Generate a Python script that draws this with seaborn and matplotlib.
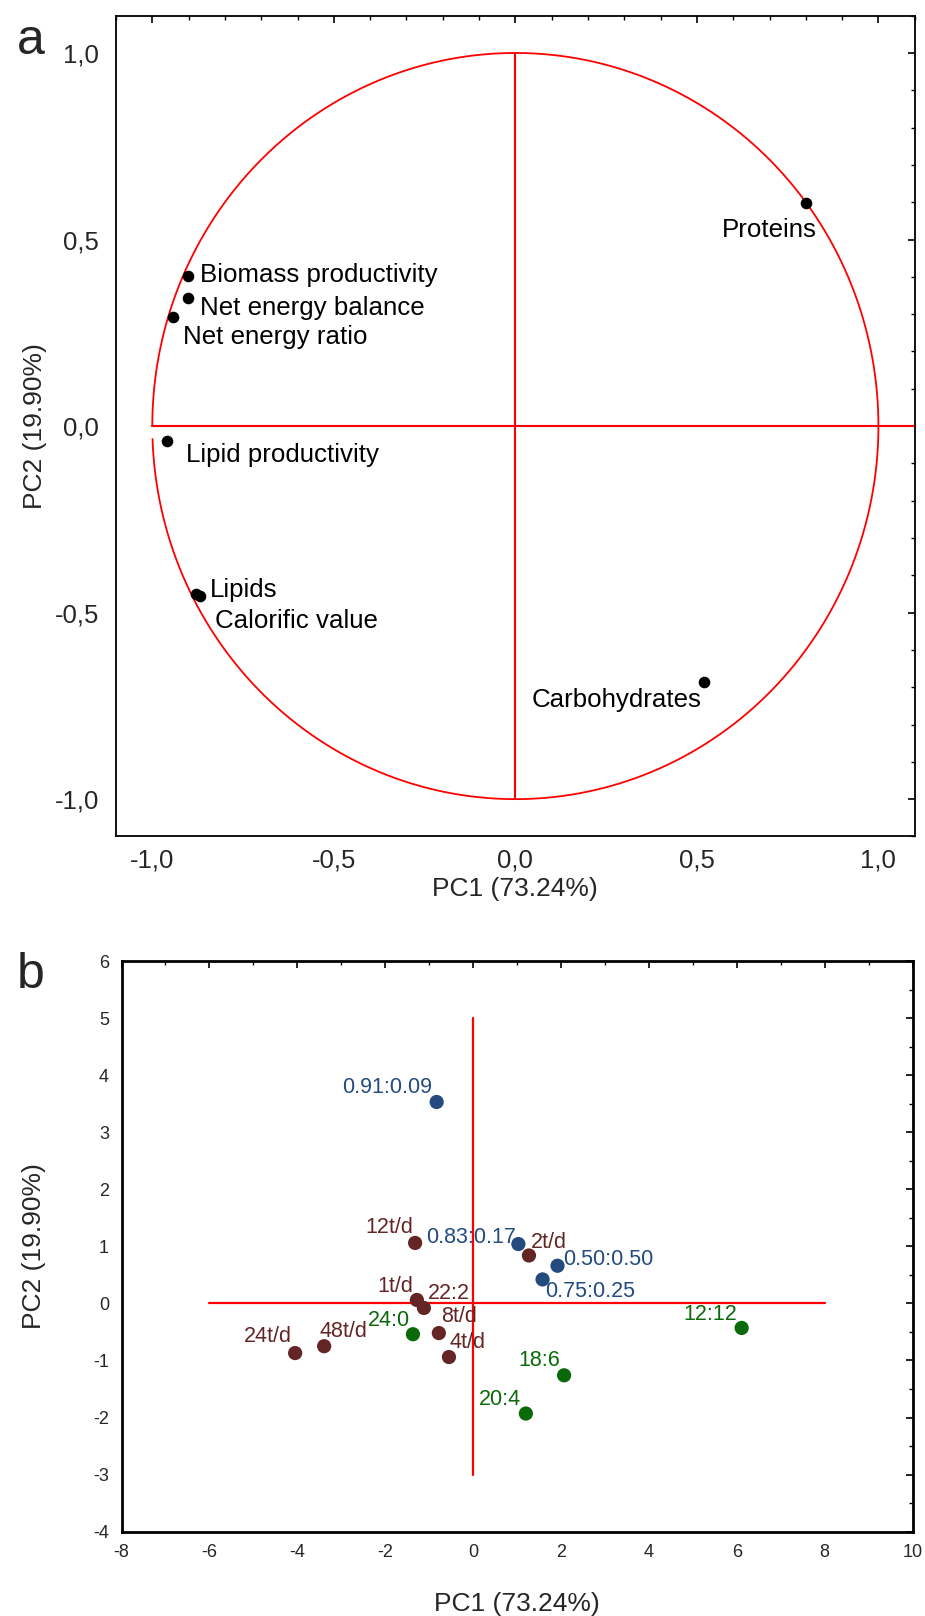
import numpy as np
import pandas as pd
import matplotlib
matplotlib.use("Agg")
import matplotlib.pyplot as plt
import seaborn as sns
from matplotlib.ticker import MultipleLocator, FixedLocator

sns.set_style("white")
plt.rcParams['font.family'] = ['Liberation Sans', 'DejaVu Sans']
plt.rcParams['axes.unicode_minus'] = False

# ---------------- data: panel a (loadings) ----------------
var_names = ["Proteins", "Biomass productivity", "Net energy balance", "Net energy ratio",
             "Lipid productivity", "Lipids", "Calorific value", "Carbohydrates"]
var_pc1 = [0.80, -0.903, -0.903, -0.943, -0.960, -0.881, -0.869, 0.520]
var_pc2 = [0.597, 0.403, 0.343, 0.293, -0.039, -0.450, -0.456, -0.685]

# ---------------- data: panel b (scores) ----------------
obs_names = ["0.91:0.09", "0.83:0.17", "0.50:0.50", "0.75:0.25",
             "12t/d", "2t/d", "1t/d", "22:2", "8t/d", "4t/d", "24t/d", "48t/d",
             "24:0", "12:12", "18:6", "20:4"]
obs_pc1 = [-0.83, 1.03, 1.92, 1.58,
           -1.32, 1.27, -1.28, -1.12, -0.78, -0.55, -4.05, -3.39,
           -1.37, 6.11, 2.07, 1.20]
obs_pc2 = [3.53, 1.04, 0.66, 0.42,
           1.06, 0.84, 0.06, -0.08, -0.52, -0.94, -0.87, -0.75,
           -0.54, -0.43, -1.26, -1.93]
obs_group = ["ratio"] * 4 + ["brown"] * 8 + ["green"] * 4

xlabel = "PC1 (73.24%)"
ylabel = "PC2 (19.90%)"

# ---------------- styling / layout ----------------
palette = {"ratio": "#234B7E", "brown": "#642624", "green": "#0A6A0A"}
# label offsets in pixels (dx, dy up), horizontal alignment
var_lab = {
    "Proteins": (11, -27, "right"),
    "Biomass productivity": (12, 1, "left"),
    "Net energy balance": (12, -10, "left"),
    "Net energy ratio": (10, -20, "left"),
    "Lipid productivity": (19, -14, "left"),
    "Lipids": (14, 4, "left"),
    "Calorific value": (15, -25, "left"),
    "Carbohydrates": (-3, -18, "right"),
}
obs_lab = {
    "0.91:0.09": (-5, 14, "right"),
    "0.83:0.17": (-2, 7, "right"),
    "0.50:0.50": (6, 6, "left"),
    "0.75:0.25": (3, -12, "left"),
    "12t/d": (-2, 15, "right"),
    "2t/d": (2, 13, "left"),
    "1t/d": (-4, 13, "right"),
    "22:2": (4, 14, "left"),
    "8t/d": (2, 17, "left"),
    "4t/d": (1, 15, "left"),
    "24t/d": (-3, 17, "right"),
    "48t/d": (-5, 15, "left"),
    "24:0": (-3, 14, "right"),
    "12:12": (-5, 13, "right"),
    "18:6": (-4, 15, "right"),
    "20:4": (-5, 14, "right"),
}
PX = 0.72  # points per pixel at dpi 100

fig = plt.figure(figsize=(9.25, 16.16), dpi=100)
axa = fig.add_axes([0.1254, 0.4824, 0.9889 - 0.1254, 0.9903 - 0.4824])
axb = fig.add_axes([0.1314, 0.0522, 0.9866 - 0.1314, 0.4053 - 0.0522])

# ---------------- panel a ----------------
red = "#FF0000"
theta = np.deg2rad(np.linspace(182, 540, 800))
axa.plot(np.cos(theta), np.sin(theta), color=red, lw=1.3, zorder=1)
axa.plot([0, 0], [-1, 1], color=red, lw=1.5, zorder=1)
axa.plot([-1, 1.1], [0, 0], color=red, lw=1.5, zorder=1)

dfa = pd.DataFrame({"name": var_names, "pc1": var_pc1, "pc2": var_pc2})
sns.scatterplot(data=dfa, x="pc1", y="pc2", ax=axa, color="black", s=70,
                edgecolor="black", linewidth=0, zorder=3, legend=False)
for n, x, y in zip(var_names, var_pc1, var_pc2):
    dx, dy, ha = var_lab[n]
    axa.annotate(n, (x, y), xytext=(dx * PX, dy * PX), textcoords="offset points",
                 ha=ha, va="center", fontsize=18.6, color="black")

axa.set_xlim(-1.1, 1.1)
axa.set_ylim(-1.1, 1.1)
axa.xaxis.set_major_locator(FixedLocator([-1, -0.5, 0, 0.5, 1]))
axa.yaxis.set_major_locator(FixedLocator([-1, -0.5, 0, 0.5, 1]))
axa.xaxis.set_minor_locator(MultipleLocator(0.1))
axa.yaxis.set_minor_locator(MultipleLocator(0.1))
axa.set_xticklabels(["-1,0", "-0,5", "0,0", "0,5", "1,0"])
axa.set_yticklabels(["-1,0", "-0,5", "0,0", "0,5", "1,0"])
axa.tick_params(which="both", direction="in", top=True, right=True, color="black",
                labelsize=18.5, pad=12)
axa.tick_params(axis="x", pad=9)
axa.tick_params(which="major", length=5, width=1.2)
axa.tick_params(which="minor", length=3, width=1.0)
for sp in axa.spines.values():
    sp.set_color("black")
    sp.set_linewidth(1.3)
axa.set_xlabel(xlabel, fontsize=19, labelpad=3)
axa.set_ylabel(ylabel, fontsize=19, labelpad=6)

# ---------------- panel b ----------------
axb.plot([0, 0], [-3, 5], color=red, lw=1.6, zorder=1)
axb.plot([-6, 8], [0, 0], color=red, lw=1.6, zorder=1)

dfb = pd.DataFrame({"name": obs_names, "pc1": obs_pc1, "pc2": obs_pc2, "group": obs_group})
sns.scatterplot(data=dfb, x="pc1", y="pc2", hue="group", palette=palette, ax=axb,
                s=105, linewidth=0, zorder=3, legend=False)
for n, x, y, g in zip(obs_names, obs_pc1, obs_pc2, obs_group):
    dx, dy, ha = obs_lab[n]
    axb.annotate(n, (x, y), xytext=(dx * PX, dy * PX), textcoords="offset points",
                 ha=ha, va="center", fontsize=15.5, color=palette[g])

axb.set_xlim(-8, 10)
axb.set_ylim(-4, 6)
axb.xaxis.set_major_locator(MultipleLocator(2))
axb.xaxis.set_minor_locator(MultipleLocator(1))
axb.yaxis.set_major_locator(MultipleLocator(1))
axb.yaxis.set_minor_locator(MultipleLocator(0.5))
axb.tick_params(which="both", direction="in", top=True, right=True, color="black",
                labelsize=13, pad=9)
axb.tick_params(which="major", length=5, width=1.2)
axb.tick_params(which="minor", length=3, width=1.0)
for sp in axb.spines.values():
    sp.set_color("black")
    sp.set_linewidth(2.0)
axb.set_xlabel(xlabel, fontsize=19, labelpad=22)
axb.set_ylabel(ylabel, fontsize=19, labelpad=34)

fig.text(31 / 925, 1 - 41 / 1616, "a", fontsize=36, ha="center", va="center")
fig.text(31 / 925, 1 - 975 / 1616, "b", fontsize=36, ha="center", va="center")

fig.savefig("out.png", dpi=100)
